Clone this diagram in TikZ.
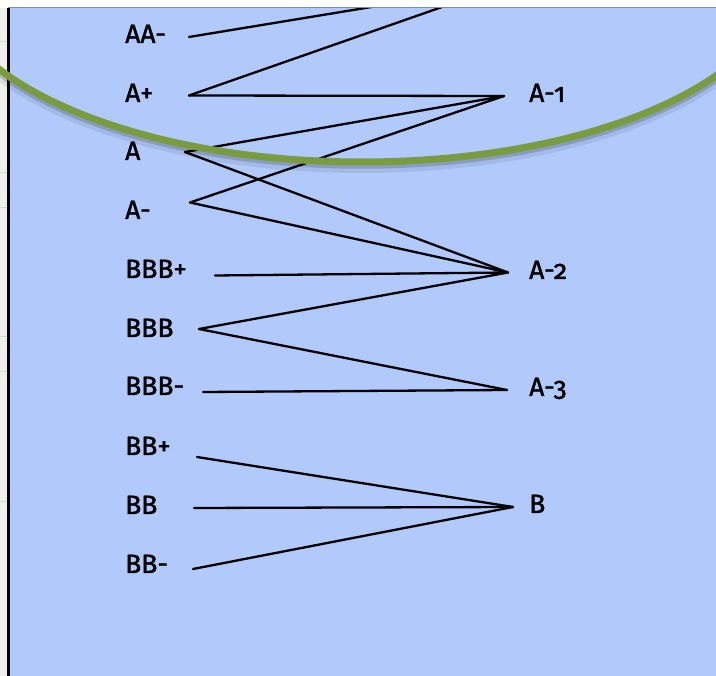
\documentclass[tikz,border=0pt]{standalone}
\usepackage{fontspec}
\setmainfont[Numbers=OldStyle]{Fira Sans}
\newfontfamily\lblfont[Numbers=OldStyle, FakeBold=1.6]{Fira Sans}
\definecolor{bgblue}{RGB}{177,201,251}
\definecolor{olive}{RGB}{122,156,64}
\definecolor{stripgray}{RGB}{238,238,238}
\definecolor{tickgray}{RGB}{205,212,222}
\definecolor{topline}{RGB}{120,145,170}
\begin{document}
\begin{tikzpicture}[x=1pt,y=-1pt,
  lbl/.style={anchor=base west, inner sep=0pt, font=\lblfont\fontsize{26.5}{30}\selectfont},
  conn/.style={line width=2.3pt, black, line cap=round}]
\useasboundingbox (0,0) rectangle (716,676);
% background
\fill[white] (0,0) rectangle (716,8);
\fill[stripgray] (0,8) rectangle (8,676);
\fill[bgblue] (8,8) rectangle (716,676);
\foreach \yy in {42,173,208,337,372,502} \draw[tickgray, line width=1pt] (0,\yy) -- (7,\yy);
\draw[topline, line width=1pt] (8,7.8) -- (716,7.8);
\draw[black, line width=2.8pt] (8.7,8) -- (8.7,676);
% labels
\node[lbl] (AAm) at (125,43) {AA-};
\node[lbl] (Ap) at (125,102) {A+};
\node[lbl] (A) at (125,160) {A};
\node[lbl] (Am) at (125,219) {A-};
\node[lbl] (BBBp) at (125,278) {BBB+};
\node[lbl] (BBB) at (125,337) {BBB};
\node[lbl] (BBBm) at (125,395) {BBB-};
\node[lbl] (BBp) at (125,455) {BB+};
\node[lbl] (BB) at (125,514) {BB};
\node[lbl] (BBm) at (125,573) {BB-};
\node[lbl] (A1) at (529,102) {A-1};
\node[lbl] (A2) at (529,279) {A-2};
\node[lbl] (A3) at (529,396) {A-3};
\node[lbl] (Bn) at (529,513) {B};
% ports
\coordinate (pAAm) at (189,37);
\coordinate (pAp) at (189,95.5);
\coordinate (pA) at (185,152);
\coordinate (pAm) at (190,202.5);
\coordinate (pBBBp) at (215,275.5);
\coordinate (pBBB) at (199,329);
\coordinate (pBBBm) at (203,392);
\coordinate (pBBp) at (197,457);
\coordinate (pBB) at (194,508);
\coordinate (pBBm) at (193,569);
\coordinate (top) at (505,-15);
\coordinate (pA1) at (504,96);
\coordinate (pA2) at (508,272.5);
\coordinate (pA3) at (507,390);
\coordinate (pB) at (513,507);
% connectors
\begin{scope}
\clip (8,8.5) rectangle (716,676);
\draw[conn] (pAAm) -- (top);
\draw[conn] (pAp) -- (top);
\draw[conn] (pAp) -- (pA1);
\draw[conn] (pA) -- (pA1);
\draw[conn] (pAm) -- (pA1);
\draw[conn] (pA) -- (pA2);
\draw[conn] (pAm) -- (pA2);
\draw[conn] (pBBBp) -- (pA2);
\draw[conn] (pBBB) -- (pA2);
\draw[conn] (pBBB) -- (pA3);
\draw[conn] (pBBBm) -- (pA3);
\draw[conn] (pBBp) -- (pB);
\draw[conn] (pBB) -- (pB);
\draw[conn] (pBBm) -- (pB);
\end{scope}
% green ellipse with soft shadow
\begin{scope}
\clip (0,8) rectangle (716,676);
\draw[black, opacity=0.08, line width=12pt] (362,-20) ellipse [x radius=420pt, y radius=187pt];
\draw[black, opacity=0.16, line width=7.5pt] (362,-22) ellipse [x radius=420pt, y radius=187pt];
\draw[olive, line width=7pt] (362,-25) ellipse [x radius=420pt, y radius=187pt];
\end{scope}
\end{tikzpicture}
\end{document}
